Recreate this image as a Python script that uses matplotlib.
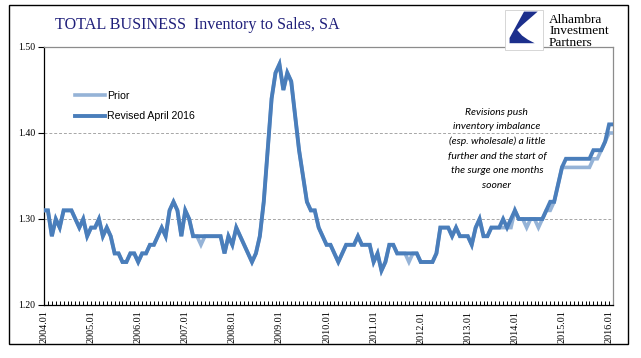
import numpy as np
from matplotlib import pyplot as plt
from matplotlib.lines import Line2D
from matplotlib.patches import Rectangle, Polygon

# monthly data, 2004.01 .. 2016.02
START_YEAR = 2004
revised = [
    1.31, 1.31, 1.28, 1.30, 1.29, 1.31, 1.31, 1.31, 1.30, 1.29, 1.30, 1.28,  # 2004
    1.29, 1.29, 1.30, 1.28, 1.29, 1.28, 1.26, 1.26, 1.25, 1.25, 1.26, 1.26,  # 2005
    1.25, 1.26, 1.26, 1.27, 1.27, 1.28, 1.29, 1.28, 1.31, 1.32, 1.31, 1.28,  # 2006
    1.31, 1.30, 1.28, 1.28, 1.28, 1.28, 1.28, 1.28, 1.28, 1.28, 1.26, 1.28,  # 2007
    1.27, 1.29, 1.28, 1.27, 1.26, 1.25, 1.26, 1.28, 1.32, 1.38, 1.44, 1.47,  # 2008
    1.48, 1.45, 1.47, 1.46, 1.42, 1.38, 1.35, 1.32, 1.31, 1.31, 1.29, 1.28,  # 2009
    1.27, 1.27, 1.26, 1.25, 1.26, 1.27, 1.27, 1.27, 1.28, 1.27, 1.27, 1.27,  # 2010
    1.25, 1.26, 1.24, 1.25, 1.27, 1.27, 1.26, 1.26, 1.26, 1.26, 1.26, 1.26,  # 2011
    1.25, 1.25, 1.25, 1.25, 1.26, 1.29, 1.29, 1.29, 1.28, 1.29, 1.28, 1.28,  # 2012
    1.28, 1.27, 1.29, 1.30, 1.28, 1.28, 1.29, 1.29, 1.29, 1.30, 1.29, 1.30,  # 2013
    1.31, 1.30, 1.30, 1.30, 1.30, 1.30, 1.30, 1.30, 1.31, 1.32, 1.32, 1.34,  # 2014
    1.36, 1.37, 1.37, 1.37, 1.37, 1.37, 1.37, 1.37, 1.38, 1.38, 1.38, 1.39,  # 2015
    1.41, 1.41,                                                              # 2016
]
prior = [
    1.31, 1.31, 1.28, 1.30, 1.29, 1.31, 1.31, 1.31, 1.30, 1.29, 1.30, 1.28,
    1.29, 1.29, 1.30, 1.28, 1.29, 1.28, 1.26, 1.26, 1.25, 1.25, 1.26, 1.26,
    1.25, 1.26, 1.26, 1.27, 1.27, 1.28, 1.29, 1.28, 1.31, 1.32, 1.31, 1.28,
    1.31, 1.30, 1.28, 1.28, 1.27, 1.28, 1.28, 1.28, 1.28, 1.28, 1.26, 1.28,
    1.27, 1.29, 1.28, 1.27, 1.26, 1.25, 1.26, 1.28, 1.32, 1.38, 1.44, 1.47,
    1.48, 1.45, 1.47, 1.46, 1.42, 1.38, 1.35, 1.32, 1.31, 1.31, 1.29, 1.28,
    1.27, 1.27, 1.26, 1.25, 1.26, 1.27, 1.27, 1.27, 1.28, 1.27, 1.27, 1.27,
    1.25, 1.26, 1.24, 1.25, 1.27, 1.27, 1.26, 1.26, 1.26, 1.25, 1.26, 1.26,
    1.25, 1.25, 1.25, 1.25, 1.26, 1.29, 1.29, 1.29, 1.28, 1.29, 1.28, 1.28,
    1.28, 1.27, 1.29, 1.30, 1.28, 1.28, 1.29, 1.29, 1.29, 1.29, 1.29, 1.29,
    1.31, 1.30, 1.30, 1.29, 1.30, 1.30, 1.29, 1.30, 1.31, 1.31, 1.32, 1.34,
    1.36, 1.36, 1.36, 1.36, 1.36, 1.36, 1.36, 1.36, 1.37, 1.37, 1.38, 1.39,
    1.40, 1.40,
]
y_ticks = [1.20, 1.30, 1.40, 1.50]
year_labels = [f"{START_YEAR + i}.01" for i in range(13)]

TITLE = "TOTAL BUSINESS  Inventory to Sales, SA"
NOTE = ("Revisions push\ninventory imbalance\n(esp. wholesale) a little\n"
        "further and the start of\nthe surge one months\nsooner")

PRIOR_COLOR = "#95b3d7"
REVISED_COLOR = "#4a7ebb"
NAVY = "#1f1f7a"


def draw_logo(fig):
    # little square with the blue swoosh, then the company name
    x0, y0, w, h = 505 / 641, 1 - 50 / 358, 38 / 641, 40 / 358
    fig.patches.append(Rectangle((x0, y0), w, h, transform=fig.transFigure,
                                 facecolor="white", edgecolor="#d0d0d0", lw=0.6, zorder=5))
    shape = [(0.50, 0.96), (0.86, 0.96), (0.45, 0.62), (0.32, 0.50), (0.45, 0.36),
             (0.60, 0.26), (0.78, 0.17), (0.12, 0.17), (0.12, 0.30)]
    pts = [(x0 + sx * w, y0 + sy * h) for sx, sy in shape]
    fig.patches.append(Polygon(pts, closed=True, transform=fig.transFigure,
                               facecolor="#1c2f8c", edgecolor="none", zorder=6))
    fig.text(549 / 641, 1 - 31.5 / 358, "Alhambra\nInvestment\nPartners", family="Liberation Serif",
             fontsize=9.6, linespacing=0.98, va="center", ha="left", color="black", zorder=6)


def make_chart():
    months = np.arange(len(revised))

    fig = plt.figure(figsize=(6.41, 3.58), dpi=100)
    ax = fig.add_axes([44 / 641, 1 - 305 / 358, (613 - 44) / 641, (305 - 47) / 358])

    ax.plot(months[:len(prior)], prior, color=PRIOR_COLOR, lw=2.6, solid_joinstyle="miter", zorder=3)
    ax.plot(months, revised, color=REVISED_COLOR, lw=2.8, solid_joinstyle="miter", zorder=4)

    ax.set_xlim(0, len(revised) - 1)
    ax.set_ylim(1.20, 1.50)

    # dashed grid lines
    for y in y_ticks[1:-1]:
        ax.axhline(y, color="#a6a6a6", lw=0.7, ls=(0, (3, 2)), zorder=1)

    for side in ["top", "right"]:
        ax.spines[side].set_color("#8c8c8c")
        ax.spines[side].set_linewidth(0.9)
    for side in ["left", "bottom"]:
        ax.spines[side].set_color("black")
        ax.spines[side].set_linewidth(0.9)

    ax.set_yticks(y_ticks)
    ax.set_yticklabels([f"{v:.2f}" for v in y_ticks], family="Liberation Serif", fontsize=7)
    ax.tick_params(axis="y", direction="out", length=4, width=0.8, pad=2)

    ax.set_xticks(np.arange(0, len(revised), 12))
    ax.set_xticklabels(year_labels, rotation=90, family="Liberation Serif", fontsize=7.3)
    ax.set_xticks(months, minor=True)
    ax.tick_params(axis="x", which="both", direction="in", length=3, width=0.7, pad=4)

    legend_elements = [Line2D([0], [0], color=PRIOR_COLOR, lw=2.6, label="Prior"),
                       Line2D([0], [0], color=REVISED_COLOR, lw=2.8, label="Revised April 2016")]
    ax.legend(handles=legend_elements, loc="upper left", bbox_to_anchor=(0.055, 0.83),
              frameon=False, prop={"family": "Liberation Sans", "size": 7.6},
              handlelength=2.8, handletextpad=0.2, labelspacing=1.0, borderpad=0, borderaxespad=0)

    ax.text(0.796, 0.765, NOTE, transform=ax.transAxes, ha="center", va="top",
            family="Lato", style="italic", fontsize=7.5, linespacing=1.78)

    fig.text(55 / 641, 1 - 25 / 358, TITLE, family="Liberation Serif", fontsize=11.6,
             color=NAVY, va="center", ha="left")

    draw_logo(fig)

    # frame round the whole picture
    fig.patches.append(Rectangle((9 / 641, 1 - 344 / 358), 619 / 641, 339 / 358,
                                 transform=fig.transFigure, fill=False, edgecolor="black", lw=1.0))

    fig.savefig("out.png", dpi=100)


if __name__ == "__main__":
    make_chart()
